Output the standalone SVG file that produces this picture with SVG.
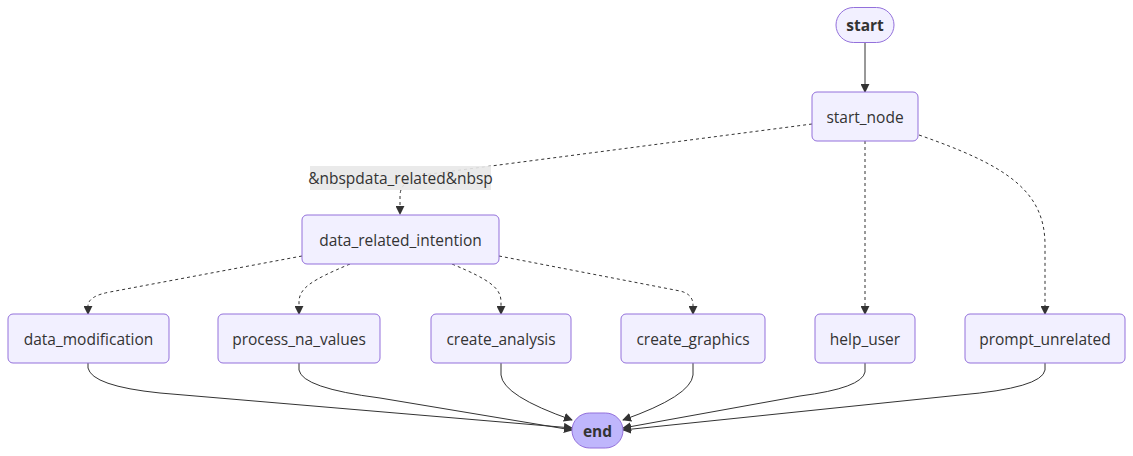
<svg xmlns="http://www.w3.org/2000/svg" width="1133" height="456" viewBox="0 0 1133 456">
<style>
.bg{fill:#ffffff}
.node rect{fill:#f2f0ff;stroke:#9370db;stroke-width:1}
.term rect{fill:#f2f0ff;stroke:#9370db;stroke-width:1}
.last rect{fill:#bfb6fc;stroke:#9370db;stroke-width:1}
text{font-family:"Open Sans","Noto Sans","Liberation Sans",sans-serif;font-size:15.5px;fill:#333333;text-anchor:middle;dominant-baseline:central}
.b{font-weight:bold}
.e{fill:none;stroke:#333333;stroke-width:1}
.d{stroke-dasharray:3 3}
.lbl{fill:#e8e8e8;opacity:0.9}
</style>
<defs>
<marker id="arr" viewBox="0 0 10 10" refX="9" refY="5" markerWidth="9" markerHeight="9" markerUnits="userSpaceOnUse" orient="auto">
<path d="M0,0 L10,5 L0,10 z" fill="#333333"/>
</marker>
</defs>
<rect class="bg" x="0" y="0" width="1133" height="456"/>
<g id="connectors">
<path class="e" d="M865,42 L865,92" marker-end="url(#arr)"/>
<path class="e d" d="M812,124 L430,174 Q400,178 400,196 L400,214" marker-end="url(#arr)"/>
<path class="e d" d="M865,141 L865,314" marker-end="url(#arr)"/>
<path class="e d" d="M919,135 C1005,165 1045,190 1045,245 L1045,314" marker-end="url(#arr)"/>
<path class="e d" d="M302,256 L110,292 Q88,296 88,306 L88,314" marker-end="url(#arr)"/>
<path class="e d" d="M350,264 C312,280 299,288 299,302 L299,314" marker-end="url(#arr)"/>
<path class="e d" d="M452,264 C490,280 501,288 501,302 L501,314" marker-end="url(#arr)"/>
<path class="e d" d="M499,256 L680,291 Q693,294 693,305 L693,314" marker-end="url(#arr)"/>
<path class="e" d="M88,363 L88,368 Q92,386 160,393 L572,428" marker-end="url(#arr)"/>
<path class="e" d="M299,363 L299,370 Q302,388 380,398 L572,430" marker-end="url(#arr)"/>
<path class="e" d="M501,363 L501,375 Q503,396 572,420" marker-end="url(#arr)"/>
<path class="e" d="M693,363 L693,375 Q691,396 623,420" marker-end="url(#arr)"/>
<path class="e" d="M865,363 L865,372 Q862,388 800,396 L623,428" marker-end="url(#arr)"/>
<path class="e" d="M1045,363 L1045,370 Q1042,388 960,395 L623,430" marker-end="url(#arr)"/>
</g>
<g id="edge-label">
<rect class="lbl" x="310" y="166" width="181" height="24"/>
<text x="400.5" y="178">&amp;nbspdata_related&amp;nbsp</text>
</g>
<g id="start" class="term">
<rect x="836" y="7.5" width="58" height="35" rx="17.5" ry="17.5"/>
<text class="b" x="865" y="25">start</text>
</g>
<g id="start_node" class="node">
<rect x="812" y="92" width="106" height="49" rx="5" ry="5"/>
<text x="865" y="116.5">start_node</text>
</g>
<g id="data_related_intention" class="node">
<rect x="302" y="215" width="197" height="49" rx="5" ry="5"/>
<text x="400.5" y="239.5">data_related_intention</text>
</g>
<g id="data_modification" class="node">
<rect x="8" y="314" width="161" height="49" rx="5" ry="5"/>
<text x="88.5" y="338.5">data_modification</text>
</g>
<g id="process_na_values" class="node">
<rect x="218" y="314" width="162" height="49" rx="5" ry="5"/>
<text x="299" y="338.5">process_na_values</text>
</g>
<g id="create_analysis" class="node">
<rect x="431" y="314" width="140" height="49" rx="5" ry="5"/>
<text x="501" y="338.5">create_analysis</text>
</g>
<g id="create_graphics" class="node">
<rect x="621" y="314" width="144" height="49" rx="5" ry="5"/>
<text x="693" y="338.5">create_graphics</text>
</g>
<g id="help_user" class="node">
<rect x="815" y="314" width="100" height="49" rx="5" ry="5"/>
<text x="865" y="338.5">help_user</text>
</g>
<g id="prompt_unrelated" class="node">
<rect x="965" y="314" width="160" height="49" rx="5" ry="5"/>
<text x="1045" y="338.5">prompt_unrelated</text>
</g>
<g id="end" class="last">
<rect x="572" y="413" width="51" height="35" rx="17.5" ry="17.5"/>
<text class="b" x="597.5" y="430.5">end</text>
</g>
</svg>
